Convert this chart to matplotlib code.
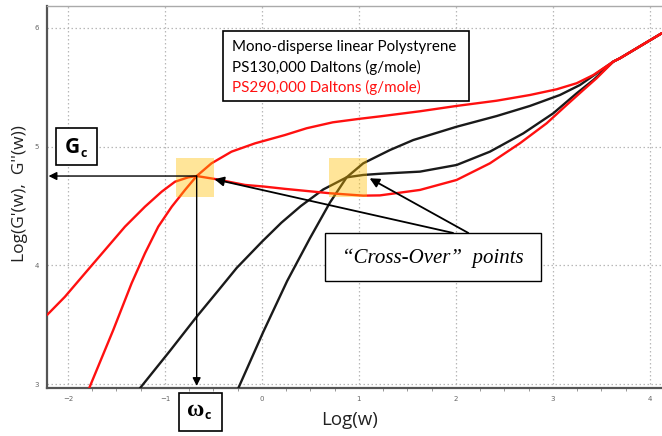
import numpy as np
import matplotlib
matplotlib.use("Agg")
import matplotlib.pyplot as plt
from matplotlib.patches import Rectangle

# (log10 values)
# PS290,000 - red
red_gp_x = [-1.78, -1.533, -1.344, -1.206, -1.069, -0.93, -0.794, -0.673, -0.52, -0.314, -0.072,
            0.237, 0.46, 0.73, 1.01, 1.216, 1.629, 2.007, 2.42, 2.763, 3.038, 3.244, 3.416, 3.622,
            3.69, 4.12]
red_gp_y = [2.97, 3.457, 3.85, 4.103, 4.327, 4.495, 4.635, 4.753, 4.86, 4.958, 5.028,
            5.098, 5.155, 5.205, 5.235, 5.255, 5.298, 5.343, 5.387, 5.435, 5.483, 5.534, 5.603,
            5.716, 5.744, 5.954]
red_gpp_x = [-2.216, -2.031, -1.825, -1.619, -1.412, -1.206, -1.034, -0.897, -0.76, -0.673, -0.485,
             -0.175, 0.013, 0.237, 0.426, 0.701, 1.044, 1.216, 1.629, 2.007, 2.35, 2.66, 2.935,
             3.141, 3.313, 3.45, 3.622, 3.69, 4.12]
red_gpp_y = [3.583, 3.737, 3.934, 4.13, 4.327, 4.495, 4.621, 4.705, 4.742, 4.753, 4.728,
             4.678, 4.665, 4.645, 4.630, 4.608, 4.588, 4.590, 4.636, 4.72, 4.86, 5.029, 5.197,
             5.351, 5.477, 5.576, 5.716, 5.744, 5.954]

# PS130,000 - black
blk_gp_x = [-0.244, 0.013, 0.26, 0.495, 0.701, 0.873, 1.044, 1.216, 1.32, 1.56, 2.007, 2.42,
            2.763, 3.072, 3.278, 3.45, 3.622, 3.69, 4.12]
blk_gp_y = [2.967, 3.44, 3.87, 4.23, 4.53, 4.742, 4.86, 4.93, 4.972, 5.056, 5.168, 5.258,
            5.343, 5.435, 5.519, 5.617, 5.716, 5.744, 5.954]
blk_gpp_x = [-1.258, -0.95, -0.673, -0.45, -0.26, 0.0, 0.2, 0.40, 0.632, 0.873, 1.044, 1.216,
             1.629, 2.007, 2.35, 2.694, 3.003, 3.244, 3.416, 3.622, 3.69, 4.12]
blk_gpp_y = [2.967, 3.28, 3.569, 3.79, 3.98, 4.2, 4.36, 4.50, 4.64, 4.742, 4.762, 4.772,
             4.79, 4.846, 4.958, 5.112, 5.281, 5.449, 5.561, 5.716, 5.744, 5.954]

cross_x = [-0.69, 0.89]
cross_y = [4.74, 4.74]

xticks = [-2, -1, 0, 1, 2, 3, 4]
yticks = [3, 4, 5, 6]

W, H = 662, 436
fig = plt.figure(figsize=(W / 100, H / 100), dpi=100)
ax = fig.add_axes([47 / W, 1 - 388 / H, (W - 47) / W, (388 - 6) / H])

lkw = dict(lw=1.7, solid_joinstyle="round", solid_capstyle="round")
ax.plot(blk_gp_x, blk_gp_y, color="#1a1a1a", zorder=3, **lkw)
ax.plot(blk_gpp_x, blk_gpp_y, color="#1a1a1a", zorder=3, **lkw)
ax.plot(red_gp_x, red_gp_y, color="#ff1010", zorder=4, **lkw)
ax.plot(red_gpp_x, red_gpp_y, color="#ff1010", zorder=4, **lkw)

# yellow highlight on the cross-over points
for cx, cy in zip(cross_x, cross_y):
	ax.add_patch(Rectangle((cx - 0.197, cy - 0.164), 0.394, 0.328, facecolor="#ffc000",
						   alpha=0.4, edgecolor="none", zorder=5))

ax.set_xlim(-2.216, 4.124)
ax.set_ylim(2.969, 6.184)
ax.set_xticks(xticks)
ax.set_yticks(yticks)
ax.set_xticks(np.arange(-2, 4.1, 0.25), minor=True)
ax.grid(True, which="major", color="#b8b8b8", linestyle=(0, (1.2, 2)), lw=0.9)
ax.tick_params(axis="both", which="major", labelsize=5, labelcolor="#666666", length=0, pad=6)
ax.tick_params(axis="x", which="minor", length=2.5, color="#888888", width=0.6)
ax.tick_params(axis="y", which="minor", length=0)
for s in ["left", "bottom"]:
	ax.spines[s].set_color("#555555")
	ax.spines[s].set_linewidth(1.6)
ax.spines["top"].set_color("#aaaaaa")
ax.spines["top"].set_linewidth(1.0)
ax.spines["right"].set_visible(False)

fig.text(20 / W, 1 - 194 / H, "Log(G'(w),  G''(w))", rotation=90, ha="center", va="center",
		 fontsize=12.5, family="Open Sans", color="#222222")
fig.text(350 / W, 1 - 420 / H, "Log(w)", ha="center", va="center", fontsize=13.5,
		 family="Open Sans", color="#222222")

# Gc / wc arrows
ax.annotate("", xy=(-2.2, 4.753), xytext=(cross_x[0] + 0.017, 4.753),
			arrowprops=dict(arrowstyle="-|>", color="black", lw=1.0, mutation_scale=12,
							shrinkA=0, shrinkB=0), zorder=6)
ax.annotate("", xy=(cross_x[0] + 0.017, 2.986), xytext=(cross_x[0] + 0.017, 4.753),
			arrowprops=dict(arrowstyle="-|>", color="black", lw=1.0, mutation_scale=12,
							shrinkA=0, shrinkB=0), zorder=6)

# arrows from the Cross-Over box
ax.annotate("", xy=(cross_x[0] + 0.2, 4.726), xytext=(1.97, 4.274),
			arrowprops=dict(arrowstyle="-|>", color="black", lw=1.3, mutation_scale=14,
							shrinkA=0, shrinkB=0), zorder=6)
ax.annotate("", xy=(cross_x[1] + 0.22, 4.734), xytext=(2.127, 4.274),
			arrowprops=dict(arrowstyle="-|>", color="black", lw=1.3, mutation_scale=14,
							shrinkA=0, shrinkB=0), zorder=6)


def pbox(x0, y0, x1, y1, lw=1.2):
	r = Rectangle((x0 / W, 1 - y1 / H), (x1 - x0) / W, (y1 - y0) / H, transform=fig.transFigure,
				  facecolor="white", edgecolor="black", lw=lw, zorder=7)
	fig.add_artist(r)


# legend box
pbox(223, 31, 469, 101)
leg_lines = ["Mono-disperse linear Polystyrene", "PS130,000 Daltons (g/mole)",
			 "PS290,000 Daltons (g/mole)"]
leg_colors = ["black", "black", "#ff1010"]
for i, (t, c) in enumerate(zip(leg_lines, leg_colors)):
	fig.text(232 / W, 1 - (47 + 20 * i) / H, t, color=c, fontsize=10.9, family="Lato",
			 ha="left", va="center", zorder=8)

# Gc box
pbox(56, 128, 97, 165)
fig.text(72 / W, 1 - 147 / H, "G", fontsize=15, fontweight="bold", family="Open Sans",
		 ha="center", va="center", zorder=8)
fig.text(84 / W, 1 - 153 / H, "c", fontsize=9, fontweight="bold", family="Open Sans",
		 ha="center", va="center", zorder=8)

# wc box
pbox(179, 393, 222, 431)
fig.text(196 / W, 1 - 410 / H, "ω", fontsize=17, fontweight="bold", family="Liberation Serif",
		 ha="center", va="center", zorder=8)
fig.text(208 / W, 1 - 415 / H, "c", fontsize=9, fontweight="bold", family="Open Sans",
		 ha="center", va="center", zorder=8)

# Cross-Over box
pbox(325, 233, 541, 281, lw=1.0)
fig.text(433 / W, 1 - 258 / H, "\u201cCross-Over\u201d  points", fontsize=15, style="italic",
		 family="Liberation Serif", ha="center", va="center", zorder=8)

fig.savefig("out.png", dpi=100)
